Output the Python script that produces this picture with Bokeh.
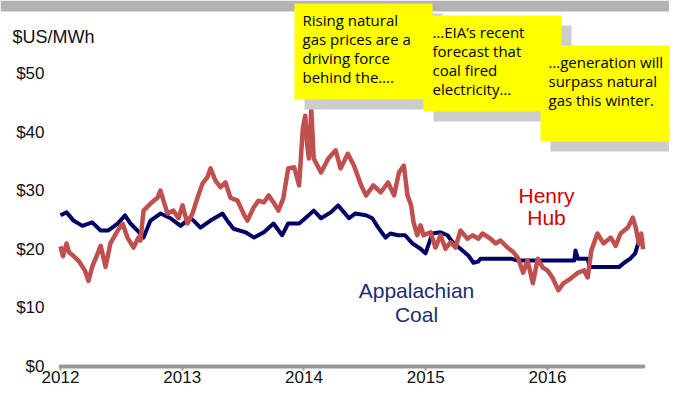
from bokeh.plotting import figure
from bokeh.models import Range1d, FixedTicker, PrintfTickFormatter, BoxAnnotation, Label
from bokeh.embed import file_html
from bokeh.resources import INLINE

# ---------------- data ----------------
henry_year = [2012.00, 2012.02, 2012.05, 2012.07, 2012.10, 2012.15, 2012.20, 2012.23, 2012.26,
              2012.30, 2012.33, 2012.37, 2012.41, 2012.47, 2012.51, 2012.55, 2012.60, 2012.64,
              2012.657, 2012.682, 2012.739, 2012.797, 2012.821, 2012.846, 2012.879, 2012.928, 2012.969,
              2013.002, 2013.043, 2013.084, 2013.125, 2013.166, 2013.207, 2013.232, 2013.273, 2013.314,
              2013.355, 2013.396, 2013.454, 2013.503, 2013.536, 2013.585, 2013.626,
              2013.67, 2013.71, 2013.75, 2013.79, 2013.83, 2013.87, 2013.92, 2013.96, 2013.99,
              2014.01, 2014.025, 2014.04, 2014.06, 2014.08, 2014.14, 2014.20, 2014.26, 2014.30,
              2014.36, 2014.41, 2014.47, 2014.51, 2014.57, 2014.63, 2014.69, 2014.74, 2014.78,
              2014.82, 2014.85, 2014.88, 2014.90, 2014.93,
              2014.957, 2014.982, 2015.039, 2015.080, 2015.121, 2015.162, 2015.203, 2015.244, 2015.285,
              2015.343, 2015.384, 2015.433, 2015.466, 2015.532, 2015.573, 2015.614, 2015.671, 2015.721,
              2015.76, 2015.80, 2015.836, 2015.88, 2015.92, 2015.96,
              2016.00, 2016.04, 2016.09, 2016.13, 2016.19, 2016.25, 2016.30, 2016.33, 2016.36, 2016.41,
              2016.46, 2016.52, 2016.56, 2016.60, 2016.66, 2016.70, 2016.725, 2016.75, 2016.77, 2016.785]
henry_price = [20.5, 18.8, 21.0, 19.5, 19.0, 18.0, 16.4, 14.6, 17.0,
               19.0, 20.6, 17.0, 21.0, 23.2, 24.4, 22.0, 20.3, 22.0,
               21.5, 26.6, 27.8, 28.8, 30.0, 28.3, 26.1, 26.6, 25.3,
               27.5, 24.4, 26.1, 28.8, 31.2, 32.3, 33.8, 31.7, 30.6,
               31.4, 28.8, 28.3, 26.1, 24.9, 27.1, 28.3,
               28.0, 29.2, 28.0, 26.6, 28.7, 33.8, 34.0, 30.9, 40.6,
               42.8, 38.0, 35.5, 44.0, 35.5, 33.1, 35.5, 36.9, 33.8,
               36.3, 34.3, 30.9, 29.2, 30.9, 29.7, 31.4, 29.2, 33.1,
               34.3, 29.2, 27.5, 24.6, 22.4,
               24.1, 22.4, 22.9, 20.3, 22.4, 20.1, 21.2, 20.3, 23.2,
               21.8, 22.4, 21.8, 22.7, 21.8, 21.0, 21.5, 20.3, 19.5,
               18.4, 16.0, 18.1, 14.2, 18.4, 16.9,
               16.4, 15.2, 13.0, 14.2, 15.0, 16.0, 16.4, 15.2, 19.8, 22.7,
               21.0, 22.0, 20.6, 22.7, 23.7, 25.4, 23.7, 21.0, 22.7, 20.0]

coal_year = [2012.00, 2012.05, 2012.107, 2012.18, 2012.26, 2012.33, 2012.39, 2012.47, 2012.53,
             2012.575, 2012.632, 2012.682, 2012.739, 2012.821, 2012.903, 2012.986, 2013.068, 2013.150,
             2013.232, 2013.331, 2013.380, 2013.421, 2013.520, 2013.59, 2013.67, 2013.75, 2013.82,
             2013.87, 2013.96, 2014.01, 2014.08, 2014.14, 2014.22, 2014.28, 2014.37, 2014.42,
             2014.51, 2014.56, 2014.61, 2014.67, 2014.71, 2014.77, 2014.83, 2014.89, 2014.957,
             2014.998, 2015.055, 2015.121, 2015.179, 2015.220, 2015.285, 2015.351, 2015.392, 2015.43,
             2015.45, 2015.70, 2015.75, 2016.22, 2016.23, 2016.25, 2016.33, 2016.345, 2016.59,
             2016.63, 2016.68, 2016.72, 2016.745, 2016.785]
coal_price = [25.8, 26.3, 24.9, 24.0, 24.6, 23.2, 23.2, 24.4, 25.8,
              24.4, 23.2, 22.0, 24.9, 26.1, 25.3, 24.0, 25.4, 23.7,
              24.9, 26.1, 24.6, 23.5, 22.9, 22.0, 22.9, 24.4, 22.4,
              24.4, 24.4, 25.3, 26.6, 25.3, 26.3, 27.5, 25.3, 26.1,
              25.8, 25.3, 23.7, 22.0, 22.7, 22.4, 22.4, 21.0, 20.1,
              19.3, 22.7, 22.9, 22.4, 21.2, 20.1, 18.9, 17.7, 17.9,
              18.4, 18.4, 18.1, 18.1, 19.8, 18.4, 18.4, 17.0, 17.0,
              17.7, 18.4, 19.3, 21.0, 22.0]

x_ticks = [2012, 2013, 2014, 2015, 2016]
y_ticks = [0, 10, 20, 30, 40, 50]

unit_label = "$US/MWh"
series_labels = ["Henry\nHub", "Appalachian\nCoal"]
notes = ["Rising natural\ngas prices are a\ndriving force\nbehind the\u2026.",
         "\u2026EIA\u2019s recent\nforecast that\ncoal fired\nelectricity\u2026",
         "\u2026generation will\nsurpass natural\ngas this winter."]

# ---------------- layout ----------------
W, H = 669, 386
X0, X1 = 2011.5072, 2017.0021
Y0, Y1 = -3.413, 62.457


def dx(px):
    return X0 + px / W * (X1 - X0)


def dy(py):
    return Y1 - py / H * (Y1 - Y0)


p = figure(width=W, height=H, x_range=Range1d(X0, X1), y_range=Range1d(Y0, Y1),
           output_backend="svg", toolbar_location=None,
           min_border_left=0, min_border_right=0, min_border_top=0, min_border_bottom=0)
p.outline_line_color = None
p.xgrid.visible = False
p.ygrid.visible = False
p.background_fill_color = "white"

xa = p.xaxis[0]
xa.fixed_location = 0
xa.bounds = (2012, 2016.79)
xa.ticker = FixedTicker(ticks=x_ticks)
xa.axis_line_color = "#999999"
xa.axis_line_width = 4
xa.axis_line_cap = "round"
xa.major_tick_line_color = "#999999"
xa.major_tick_line_width = 2
xa.major_tick_in = 0
xa.major_tick_out = 4
xa.minor_tick_line_color = None
xa.major_label_standoff = 1
xa.major_label_text_font = "Liberation Sans"
xa.major_label_text_font_size = "17px"
xa.major_label_text_color = "#111111"

ya = p.yaxis[0]
ya.fixed_location = 2012
ya.ticker = FixedTicker(ticks=y_ticks)
ya.formatter = PrintfTickFormatter(format="$%d")
ya.axis_line_color = None
ya.major_tick_line_color = None
ya.minor_tick_line_color = None
ya.major_tick_in = 0
ya.major_tick_out = 0
ya.major_label_standoff = 16
ya.major_label_text_font = "Liberation Sans"
ya.major_label_text_font_size = "17px"
ya.major_label_text_color = "#111111"

# ---------------- series ----------------
p.line(coal_year, coal_price, line_color="#000066", line_width=4, line_join="round")
p.line(henry_year, henry_price, line_color="#c0504d", line_width=4.5, line_join="round")

# ---------------- annotations ----------------
p.add_layout(BoxAnnotation(bottom=dy(11), fill_color="#b3b3b3", fill_alpha=1,
                           line_color=None))

note_boxes = [(294, 432, 3, 99), (423, 561, 15, 111), (540, 678, 45, 141)]
note_text_pos = [(302, 9), (432, 21), (548, 51)]
for (l, r, t, b), (tx, ty), txt in zip(note_boxes, note_text_pos, notes):
    p.add_layout(BoxAnnotation(left=dx(l + 10), right=dx(r + 10), top=dy(t + 10), bottom=dy(b + 10),
                               fill_color="#cccccc", fill_alpha=1, line_color=None))
    p.add_layout(BoxAnnotation(left=dx(l), right=dx(r), top=dy(t), bottom=dy(b),
                               fill_color="#ffff00", fill_alpha=1, line_color=None))
    p.add_layout(Label(x=dx(tx), y=dy(ty), text=txt, text_align="left", text_baseline="top",
                       text_font="Open Sans", text_font_size="15px", text_color="#000000",
                       text_line_height=0.95))

p.add_layout(Label(x=dx(12), y=dy(36.5), text=unit_label, text_align="left",
                   text_baseline="middle", text_font="Liberation Sans",
                   text_font_size="18px", text_color="#111111"))
p.add_layout(Label(x=dx(546), y=dy(206), text=series_labels[0], text_align="center",
                   text_baseline="middle", text_font="Liberation Sans",
                   text_font_size="21px", text_color="#cc0000", text_line_height=0.96))
p.add_layout(Label(x=dx(416), y=dy(302), text=series_labels[1], text_align="center",
                   text_baseline="middle", text_font="Liberation Sans",
                   text_font_size="21px", text_color="#1c2e6e", text_line_height=1.06))

open("out.html", "w").write(file_html(p, INLINE))
